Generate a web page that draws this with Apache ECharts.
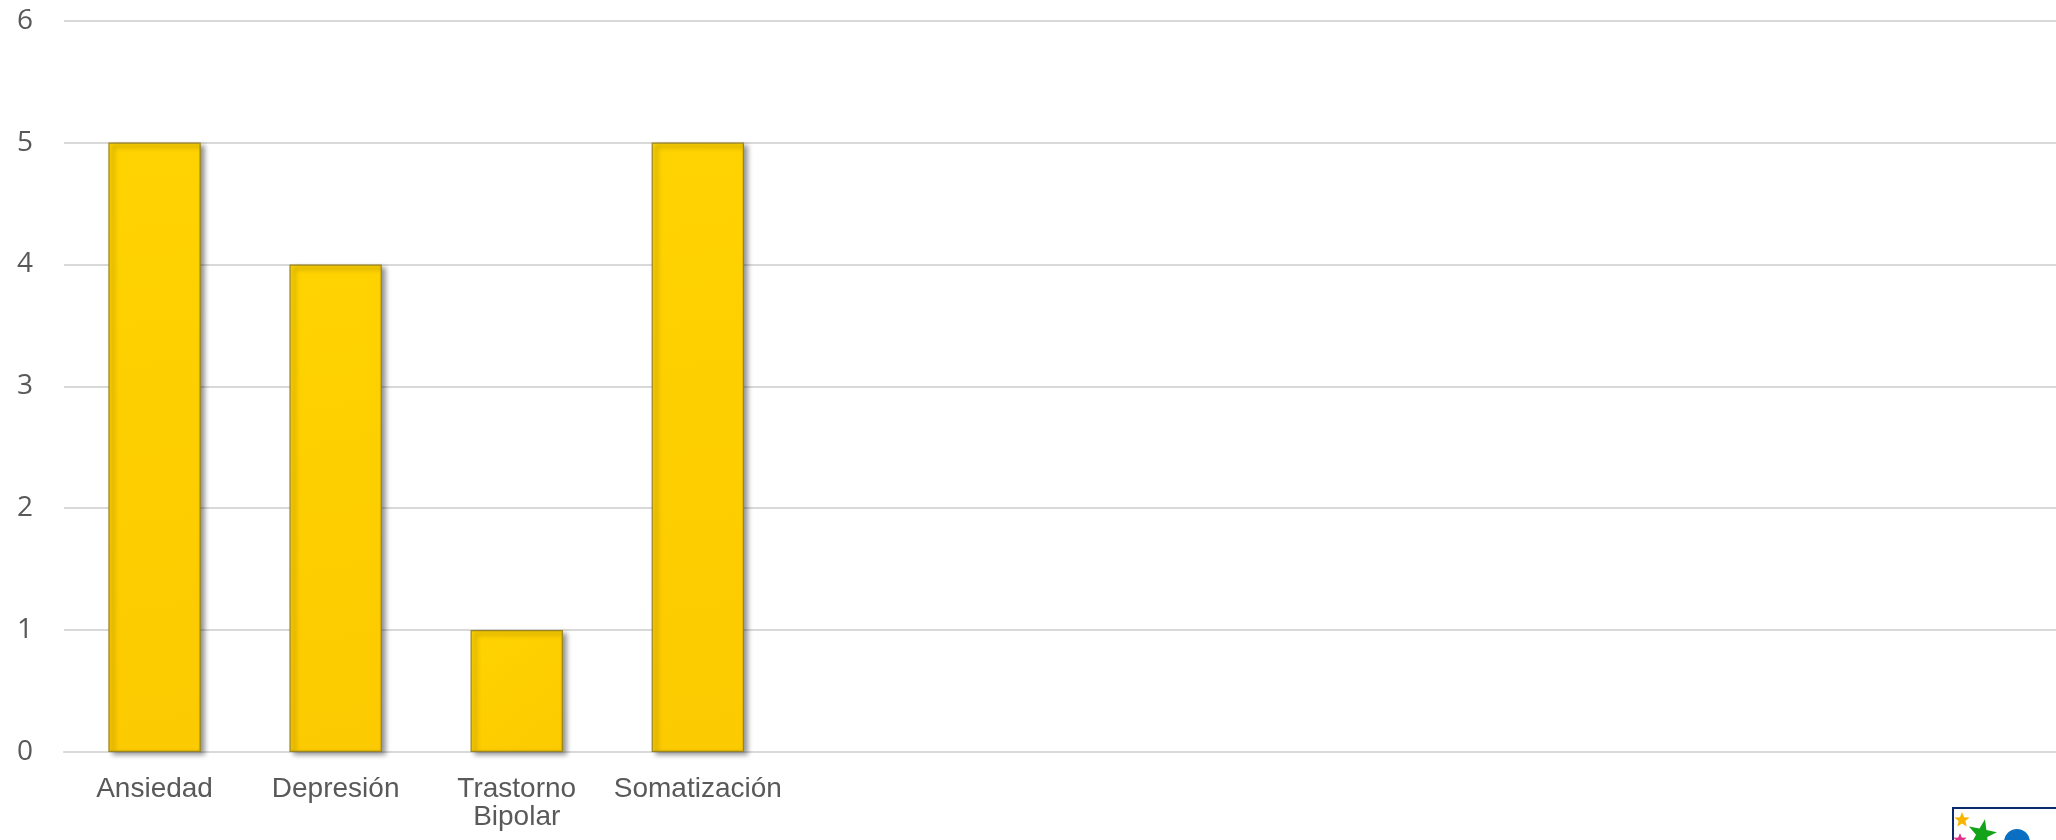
<!DOCTYPE html>
<html>
<head>
<meta charset="utf-8">
<style>
html,body{margin:0;padding:0;background:#fff;}
#chart{width:2056px;height:840px;}
</style>
<script src="https://cdn.jsdelivr.net/npm/echarts@6/dist/echarts.min.js"></script>
</head>
<body>
<div id="chart"></div>
<script>
const categories = ['Ansiedad', 'Depresión', 'Trastorno\nBipolar', 'Somatización', '', '', '', '', '', '', ''];
const values = [5, 4, 1, 5];
const yTicks = [0, 1, 2, 3, 4, 5, 6];

const chart = echarts.init(document.getElementById('chart'), null, {renderer: 'canvas'});

function starPoints(cx, cy, R, r, n, rot) {
  const pts = [];
  for (let i = 0; i < n * 2; i++) {
    const rad = (i % 2 === 0) ? R : r;
    const a = rot + i * Math.PI / n - Math.PI / 2;
    pts.push([cx + rad * Math.cos(a), cy + rad * Math.sin(a)]);
  }
  return pts;
}

chart.setOption({
  animation: false,
  backgroundColor: '#ffffff',
  grid: {left: 64, right: 0, top: 20.7, bottom: 88, containLabel: false},
  xAxis: {
    type: 'category',
    data: categories,
    axisLine: {show: true, lineStyle: {color: '#D9D9D9', width: 2}},
    axisTick: {show: false},
    axisLabel: {
      interval: 0,
      color: '#595959',
      fontFamily: 'Liberation Sans, Arial, sans-serif',
      fontSize: 28,
      lineHeight: 28,
      margin: 23
    }
  },
  yAxis: {
    type: 'value',
    min: yTicks[0],
    max: yTicks[yTicks.length - 1],
    interval: 1,
    axisLine: {show: false},
    axisTick: {show: false},
    splitLine: {lineStyle: {color: '#D9D9D9', width: 2}},
    axisLabel: {
      color: '#595959',
      fontFamily: 'Open Sans, sans-serif',
      fontSize: 28,
      margin: 31
    }
  },
  series: [{
    type: 'bar',
    data: values,
    barWidth: '51%',
    itemStyle: {
      color: new echarts.graphic.LinearGradient(0, 0, 1, 1, [
        {offset: 0, color: '#FFD300'},
        {offset: 1, color: '#FCCA00'}
      ]),
      borderColor: '#9A8420',
      borderWidth: 1.2,
      shadowColor: 'rgba(0,0,0,0.45)',
      shadowBlur: 5,
      shadowOffsetX: 4,
      shadowOffsetY: 3
    }
  }],
  graphic: [
    {type: 'rect', shape: {x: 1953, y: 808, width: 110, height: 40}, style: {fill: '#ffffff', stroke: '#0A2A6B', lineWidth: 2}, z: 10},
    {type: 'polygon', shape: {points: starPoints(1962, 820, 8, 3.5, 5, 0)}, style: {fill: '#F7B500'}, z: 11},
    {type: 'polygon', shape: {points: starPoints(1982, 834, 15, 6, 5, 0.2)}, style: {fill: '#12A318'}, z: 11},
    {type: 'polygon', shape: {points: starPoints(1960, 840, 7, 3, 5, 0)}, style: {fill: '#E0308A'}, z: 11},
    {type: 'circle', shape: {cx: 2017, cy: 842, r: 13}, style: {fill: '#0A6FC2'}, z: 11}
  ]
});
</script>
</body>
</html>
